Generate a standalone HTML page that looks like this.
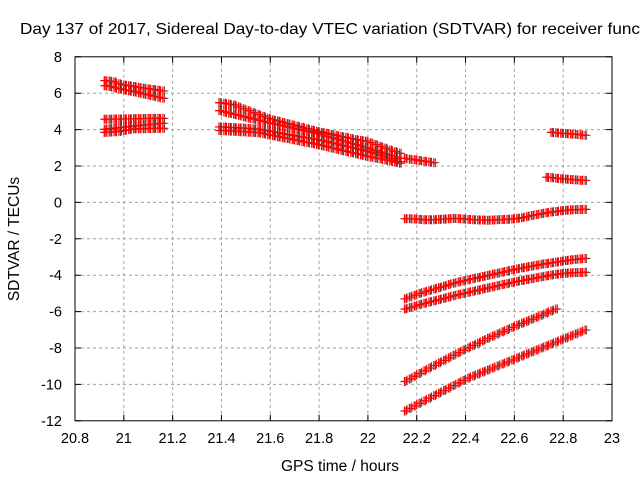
<!DOCTYPE html>
<html><head><meta charset="utf-8"><style>
html,body{margin:0;padding:0;background:#fff;}
svg{display:block;font-family:"Liberation Sans",sans-serif;}
</style></head><body>
<svg id="chart" width="640" height="480" viewBox="0 0 640 480" xmlns="http://www.w3.org/2000/svg">
<rect x="0" y="0" width="640" height="480" fill="#fff"/>
<text x="20" y="34" font-size="16" textLength="620" lengthAdjust="spacingAndGlyphs" fill="#000">Day 137 of 2017, Sidereal Day-to-day VTEC variation (SDTVAR) for receiver func</text>
<g id="grid"></g>
<g id="ticks"></g>
<g id="marks"></g>
<rect x="75" y="56.8" width="537" height="364" fill="none" stroke="#000" stroke-width="1"/>
<text x="340" y="471" font-size="15.5" text-anchor="middle">GPS time / hours</text>
<text x="19" y="239" font-size="15.5" text-anchor="middle" transform="rotate(-90 19 239)">SDTVAR / TECUs</text>
</svg>
<script>
const xTicks = ["20.8","21","21.2","21.4","21.6","21.8","22","22.2","22.4","22.6","22.8","23"];
const yTicks = ["8","6","4","2","0","-2","-4","-6","-8","-10","-12"];
const a1 = [6.69,6.67,6.62,6.52,6.45,6.41,6.37,6.32,6.28,6.24,6.2,6.16,6.12];
const a2 = [6.41,6.37,6.3,6.24,6.18,6.13,6.08,6.02,5.96,5.9,5.84,5.78,5.72];
const a3 = [4.57,4.57,4.58,4.58,4.59,4.59,4.6,4.6,4.61,4.61,4.62,4.62,4.62];
const a4 = [4.02,4.05,4.08,4.11,4.14,4.17,4.2,4.23,4.26,4.28,4.3,4.33,4.35];
const a5 = [3.85,3.86,3.88,3.9,3.95,4.0,4.04,4.05,4.05,4.06,4.06,4.07,4.07];
const b1 = [5.48,5.45,5.40,5.35,5.25,5.14,5.04,4.93,4.83,4.73,4.62,4.53,4.47,4.40,4.33,4.26,4.19,4.12,4.05,3.98,3.91,3.85,3.80,3.74,3.68,3.62,3.57,3.51,3.45,3.40,3.37,3.28,3.18,3.08,2.98,2.88,2.79,2.70];
const b2 = [5.04,4.97,4.91,4.84,4.78,4.71,4.64,4.58,4.51,4.45,4.38,4.32,4.26,4.20,4.14,4.08,4.02,3.96,3.90,3.84,3.78,3.71,3.63,3.55,3.48,3.40,3.32,3.25,3.17,3.09,3.01,2.93,2.84,2.76,2.67,2.59,2.50,2.42];
const b3 = [4.15,4.14,4.12,4.11,4.09,4.08,4.06,4.04,4.02,3.97,3.92,3.88,3.83,3.78,3.73,3.69,3.64,3.59,3.55,3.50,3.45,3.40,3.34,3.27,3.21,3.14,3.08,3.02,2.95,2.89,2.82,2.75,2.67,2.58,2.50,2.41,2.33,2.24];
const b4 = [3.95,3.94,3.92,3.91,3.89,3.88,3.86,3.85,3.83,3.78,3.72,3.67,3.61,3.56,3.51,3.45,3.40,3.34,3.29,3.24,3.18,3.12,3.06,2.99,2.93,2.86,2.80,2.74,2.67,2.61,2.54,2.49,2.44,2.39,2.33,2.28,2.21,2.15];
const b5 = [2.42,2.38,2.34,2.30,2.26,2.22,2.18];
const c1 = [3.85,3.82,3.80,3.78,3.76,3.74,3.71,3.69];
const c2 = [1.38,1.36,1.33,1.30,1.28,1.26,1.24,1.22,1.21];
const d1 = [-0.90,-0.90,-0.91,-0.93,-0.95,-0.95,-0.95,-0.93,-0.92,-0.90,-0.88,-0.89,-0.91,-0.93,-0.95,-0.96,-0.97,-0.98,-0.97,-0.95,-0.94,-0.93,-0.91,-0.88,-0.84,-0.78,-0.72,-0.67,-0.62,-0.57,-0.53,-0.50,-0.46,-0.43,-0.41,-0.40,-0.39,-0.38];
const e1 = [-5.30,-5.20,-5.10,-5.00,-4.92,-4.84,-4.76,-4.68,-4.60,-4.52,-4.44,-4.37,-4.31,-4.25,-4.19,-4.13,-4.07,-4.01,-3.95,-3.89,-3.83,-3.77,-3.71,-3.65,-3.60,-3.55,-3.50,-3.45,-3.40,-3.36,-3.32,-3.28,-3.24,-3.20,-3.16,-3.13,-3.10,-3.08];
const e2 = [-5.86,-5.78,-5.70,-5.62,-5.55,-5.48,-5.41,-5.34,-5.27,-5.20,-5.13,-5.06,-5.00,-4.94,-4.88,-4.82,-4.76,-4.70,-4.64,-4.58,-4.52,-4.46,-4.40,-4.34,-4.29,-4.24,-4.19,-4.14,-4.09,-4.04,-3.99,-3.95,-3.92,-3.89,-3.87,-3.86,-3.85,-3.84];
const f1 = [-9.84,-9.70,-9.55,-9.40,-9.25,-9.10,-8.96,-8.82,-8.68,-8.54,-8.40,-8.26,-8.12,-7.99,-7.86,-7.73,-7.60,-7.47,-7.35,-7.23,-7.11,-6.99,-6.87,-6.75,-6.64,-6.53,-6.42,-6.31,-6.20,-6.08,-5.97,-5.86];
const f2 = [-11.46,-11.32,-11.18,-11.04,-10.90,-10.76,-10.62,-10.48,-10.34,-10.20,-10.06,-9.92,-9.78,-9.65,-9.54,-9.43,-9.32,-9.21,-9.10,-8.99,-8.88,-8.77,-8.66,-8.55,-8.44,-8.33,-8.22,-8.11,-8.00,-7.89,-7.78,-7.67,-7.56,-7.45,-7.34,-7.23,-7.12,-7.01];
const seriesStarts = [20.92,20.92,20.92,20.92,20.92,21.39,21.39,21.39,21.39,22.15,22.75,22.73,22.15,22.15,22.15,22.15,22.15];
const seriesList = [a1,a2,a3,a4,a5,b1,b2,b3,b4,b5,c1,c2,d1,e1,e2,f1,f2];
const seriesNames = ["a1","a2","a3","a4","a5","b1","b2","b3","b4","b5","c1","c2","d1","e1","e2","f1","f2"];
const timeStep = 0.02;

const NS = "http://www.w3.org/2000/svg";
const X0=75, X1=612, Y0=56.8, Y1=420.8, XMIN=20.8, XMAX=23, YMIN=-12, YMAX=8;
function xs(v){return X0+(v-XMIN)/(XMAX-XMIN)*(X1-X0);}
function ys(v){return Y1-(v-YMIN)/(YMAX-YMIN)*(Y1-Y0);}
function mk(tag, attrs, parent){const e=document.createElementNS(NS,tag);for(const k in attrs)e.setAttribute(k,attrs[k]);parent.appendChild(e);return e;}
const grid=document.getElementById('grid'), ticks=document.getElementById('ticks'), marks=document.getElementById('marks');
xTicks.forEach((t,i)=>{
  const x=xs(parseFloat(t));
  if(i>0&&i<xTicks.length-1){
    const g=mk('line',{x1:x,x2:x,y1:Y0,y2:Y1,stroke:'#a0a0a0','stroke-dasharray':'3,3'},grid);
    
    
  }
  const tk=mk('path',{d:`M${x},${Y1}v-6M${x},${Y0}v6`,stroke:'#000'},ticks);
  
  
  const lb=mk('text',{x:x,y:443,'font-size':14.5,'text-anchor':'middle'},ticks);
  lb.textContent=t;
  
  
});
yTicks.forEach((t,i)=>{
  const y=ys(parseFloat(t));
  if(i>0&&i<yTicks.length-1){
    const g=mk('line',{x1:X0,x2:X1,y1:y,y2:y,stroke:'#a0a0a0','stroke-dasharray':'3,3'},grid);
    
    
  }
  const tk=mk('path',{d:`M${X0},${y}h6M${X1},${y}h-6`,stroke:'#000'},ticks);
  
  
  const lb=mk('text',{x:X0-13,y:y+5,'font-size':14.5,'text-anchor':'end'},ticks);
  lb.textContent=t;
  
  
});
function crossPath(vals,t0,dx,dens){
  let d='';
  vals.forEach((v,i)=>{
    const x=xs(t0+i*timeStep)+dx, y=ys(v);
    d+=`M${x-4},${y}h8M${x},${y-4.5}v9`;
    if(dens && i<vals.length-1){
      const x2=xs(t0+(i+0.5)*timeStep)+dx, y2=ys((v+vals[i+1])/2);
      d+=`M${x2},${y2-4.5}v9`;
    }
  });
  return d;
}
seriesList.forEach((vals,k)=>{
  const g=mk('g',{},marks);
  
  
  const pb=mk('path',{d:crossPath(vals,seriesStarts[k],1.5,false),stroke:'#333','stroke-width':0.8,fill:'none'},g);
  
  
  const pr=mk('path',{d:crossPath(vals,seriesStarts[k],0,true),stroke:'#ff0000','stroke-width':1.3,fill:'none'},g);
  
  
});
</script>
</body></html>
